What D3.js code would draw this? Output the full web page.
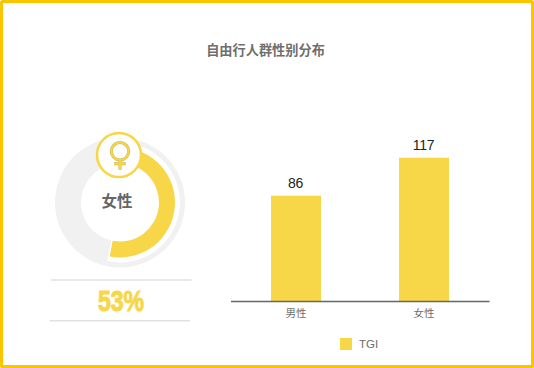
<!DOCTYPE html>
<html>
<head>
<meta charset="utf-8">
<script src="https://cdn.jsdelivr.net/npm/d3@7"></script>
<style>
  html, body { margin: 0; padding: 0; background: #fff; }
  svg { display: block; font-family: "Noto Sans CJK SC", "Liberation Sans", sans-serif; }
</style>
</head>
<body>
<svg width="534" height="368"></svg>
<script>
const categories = ["男性", "女性"];
const tgiValues = [86, 117];
const femaleShare = 53;
const chartTitle = "自由行人群性别分布";
const legendLabel = "TGI";

const yellow = "#f7d748";
const svg = d3.select("svg");

// outer frame
svg.append("rect").attr("x", 1.5).attr("y", 1.5).attr("width", 531).attr("height", 365)
  .attr("rx", 1).attr("fill", "#fff").attr("stroke", "#fdc400").attr("stroke-width", 3);

svg.append("text").attr("x", 265.5).attr("y", 55).attr("text-anchor", "middle")
  .attr("font-size", 13.2).attr("font-weight", 700).attr("fill", "#6e6e6e").text(chartTitle);

// donut
const donut = svg.append("g").attr("transform", "translate(120,202.5)");
const share = d3.scaleLinear().domain([0, 100]).range([0, 2 * Math.PI]);
const arc = d3.arc();
donut.append("path").attr("fill", "#f1f1f1")
  .attr("d", arc({ innerRadius: 39, outerRadius: 65, startAngle: share(femaleShare) + 0.03, endAngle: share(100) }));
donut.append("path").attr("fill", "#f1f1f1")
  .attr("d", arc({ innerRadius: 60, outerRadius: 65, startAngle: 0, endAngle: share(femaleShare) + 0.03 }));
donut.append("path").attr("fill", yellow)
  .attr("d", arc({ innerRadius: 39, outerRadius: 55, startAngle: 0, endAngle: share(femaleShare) }));
donut.append("text").attr("x", -3).attr("y", 4.5).attr("text-anchor", "middle")
  .attr("font-size", 15.5).attr("font-weight", 700).attr("fill", "#666").text("女性");

// venus badge
const venusCross = "M1,5V15M-5,8.7H6.7";
const badge = svg.append("g").attr("transform", "translate(119,155)");
badge.append("circle").attr("r", 22).attr("fill", "#fff").attr("stroke", yellow).attr("stroke-width", 2.5);
badge.append("path").attr("d", venusCross).attr("fill", "none").attr("stroke", "#c4b362").attr("stroke-width", 3);
badge.append("circle").attr("cx", 1).attr("cy", -3.7).attr("r", 8.7).attr("fill", "none").attr("stroke", "#c4b362").attr("stroke-width", 3);
badge.append("path").attr("d", venusCross).attr("fill", "none").attr("stroke", yellow).attr("stroke-width", 2);
badge.append("circle").attr("cx", 1).attr("cy", -3.7).attr("r", 8.7).attr("fill", "none").attr("stroke", yellow).attr("stroke-width", 2);

// percent block
svg.append("line").attr("x1", 51).attr("x2", 191.5).attr("y1", 280).attr("y2", 280).attr("stroke", "#e2e2e2").attr("stroke-width", 1.5);
svg.append("line").attr("x1", 49.5).attr("x2", 190).attr("y1", 320.7).attr("y2", 320.7).attr("stroke", "#e2e2e2").attr("stroke-width", 1.5);
svg.append("text").attr("transform", "translate(121,310.5) scale(0.77,1)").attr("text-anchor", "middle")
  .attr("font-family", "'Liberation Sans Narrow','Liberation Sans',sans-serif")
  .attr("font-size", 30).attr("font-weight", 700).attr("fill", yellow)
  .attr("stroke", yellow).attr("stroke-width", 1).text(femaleShare + "%");

// bars
const x = d3.scaleBand().domain(categories).range([232, 488]);
const y = d3.scaleLinear().domain([0, 117]).range([301, 157.7]);
const barWidth = 50;
const bars = svg.append("g");
bars.selectAll("rect").data(tgiValues).join("rect")
  .attr("x", (d, i) => x(categories[i]) + x.bandwidth() / 2 - barWidth / 2)
  .attr("y", d => y(d))
  .attr("width", barWidth)
  .attr("height", d => y(0) - y(d))
  .attr("fill", yellow);
bars.selectAll("text").data(tgiValues).join("text")
  .attr("x", (d, i) => x(categories[i]) + x.bandwidth() / 2 - 0.5)
  .attr("y", d => y(d) - 8)
  .attr("text-anchor", "middle")
  .attr("font-family", "'Liberation Sans',sans-serif")
  .attr("font-size", 14).attr("letter-spacing", -0.2).attr("fill", "#222").text(d => d);

const axis = svg.append("g").attr("transform", "translate(0,301)")
  .call(d3.axisBottom(x).tickSize(0).tickPadding(9));
// baseline runs a little past the bands
axis.select(".domain").attr("d", "M231,0.5H489.5").attr("stroke", "#666").attr("stroke-width", 1.3);
axis.selectAll("text").attr("font-family", "'Noto Sans CJK SC',sans-serif").attr("font-size", 10.5).attr("fill", "#6e6e6e");

// legend
svg.append("rect").attr("x", 340).attr("y", 338).attr("width", 12).attr("height", 12).attr("fill", yellow);
svg.append("text").attr("x", 359).attr("y", 348).attr("font-family", "'Liberation Sans',sans-serif")
  .attr("font-size", 11.5).attr("fill", "#6e6e6e").text(legendLabel);
</script>
</body>
</html>
